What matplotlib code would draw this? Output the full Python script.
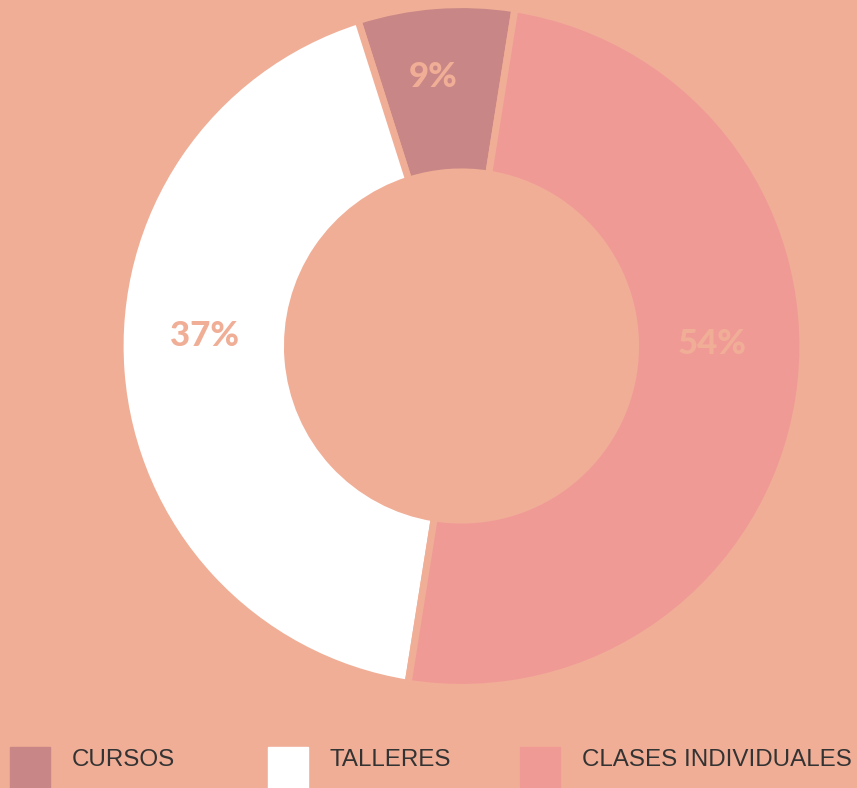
import numpy as np
import matplotlib
matplotlib.use("Agg")
import matplotlib.pyplot as plt
from matplotlib.patches import Rectangle

# data
categories = ["CURSOS", "TALLERES", "CLASES INDIVIDUALES"]
shares = [7.4, 42.6, 50.0]            # arc sizes as drawn
pct_labels = ["9%", "37%", "54%"]     # labels as printed
colors = ["#C88686", "#FFFFFF", "#F09A96"]
bg = "#F0AE96"

# where the printed labels sit (angle in degrees, radius as fraction)
label_angles = [96, 177.8, 0.5]
label_radii = [0.80, 0.76, 0.74]

W, H = 857, 788
fig = plt.figure(figsize=(W / 100, H / 100), dpi=100, facecolor=bg)

cx, cy, R = 461.5, 788 - 346, 338
ax = fig.add_axes([(cx - R) / W, (cy - R) / H, 2 * R / W, 2 * R / H])
ax.set_facecolor(bg)

ax.pie(shares, colors=colors, startangle=81, counterclock=True,
       radius=1.01, wedgeprops=dict(width=0.495, edgecolor=bg, linewidth=5))

for lab, ang, r in zip(pct_labels, label_angles, label_radii):
    a = np.deg2rad(ang)
    ax.text(r * np.cos(a), r * np.sin(a), lab, ha="center", va="center",
            fontsize=25, fontweight="black", family="Lato", color=bg)

ax.set_xlim(-1, 1)
ax.set_ylim(-1, 1)
ax.set_aspect("equal")
ax.axis("off")

# legend along the bottom
box_x = [10, 268, 520]
for name, col, x in zip(categories, colors, box_x):
    fig.patches.append(Rectangle((x / W, 0), 40 / W, 41 / H, color=col,
                                 transform=fig.transFigure, figure=fig))
    fig.text((x + 62) / W, 28 / H, name, ha="left", va="center",
             fontsize=17.4, color="#333333", family="Liberation Sans")

fig.savefig("out.png", dpi=100, facecolor=bg)
